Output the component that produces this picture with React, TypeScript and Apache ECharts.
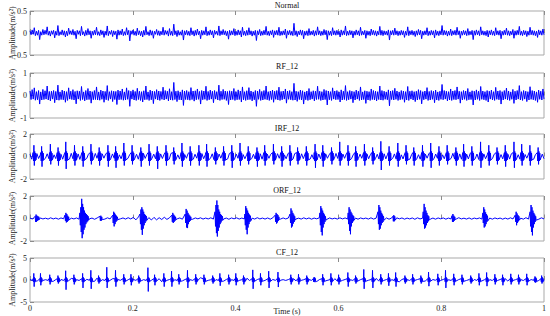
import React, { useEffect, useRef } from "react";
import * as echarts from "echarts";

// ---------- data ----------
const panelTitles = ["Normal", "RF_12", "IRF_12", "ORF_12", "CF_12"];
const yLimits = [0.5, 1, 2, 2, 5];
const xTicks = [0, 0.2, 0.4, 0.6, 0.8, 1];

// Normal: dense noise (alternating extremes)
const normalSig = [
  .05,-.04,.07,-.03,.12,-.06,.04,-.05,.06,-.15,.03,-.05,.08,-.04,.06,-.03,.14,-.05,.04,-.07,
  .05,-.03,.06,-.11,.04,-.05,.17,-.06,.03,-.04,.07,-.05,.05,-.09,.04,-.06,.11,-.03,.05,-.04,
  .08,-.05,.04,-.13,.06,-.03,.05,-.06,.15,-.04,.03,-.07,.06,-.05,.1,-.04,.05,-.12,.04,-.05,
  .06,-.04,.13,-.05,.03,-.06,.07,-.04,.05,-.1,.04,-.05,.16,-.06,.04,-.03,.06,-.08,.05,-.04,
  .04,-.14,.07,-.05,.05,-.04,.09,-.06,.03,-.05,.12,-.04,.06,-.18,.05,-.03,.07,-.05,.04,-.06,
  .11,-.04,.05,-.06,.04,-.09,.06,-.05,.15,-.04,.03,-.06,.07,-.05,.05,-.12,.04,-.03,.08,-.05,
  .05,-.06,.04,-.04,.13,-.05,.06,-.03,.05,-.07,.1,-.05,.04,-.06,.2,-.04,.05,-.08,.06,-.05,
  .03,-.05,.07,-.16,.05,-.04,.06,-.05,.04,-.06,.12,-.04,.05,-.07,.06,-.05,.09,-.04,.04,-.13,
  .06,-.05,.05,-.04,.14,-.06,.04,-.05,.07,-.04,.05,-.11,.06,-.03,.04,-.05,.16,-.06,.05,-.04,
  .08,-.04,.05,-.06,.04,-.14,.06,-.05,.05,-.04,.1,-.06,.04,-.05,.07,-.04,.05,-.09,.13,-.05,
  .04,-.06,.06,-.05,.12,-.04,.05,-.07,.04,-.05,.06,-.17,.05,-.04,.08,-.06,.04,-.05,.06,-.04,
  .15,-.05,.04,-.06,.05,-.04,.07,-.1,.05,-.04,.06,-.05,.13,-.06,.04,-.05,.05,-.04,.09,-.12,
  .05,-.04,.06,-.05,.04,-.06,.22,-.05,.05,-.08,.04,-.04,.07,-.05,.06,-.13,.04,-.05,.05,-.06,
  .1,-.05,.04,-.04,.06,-.07,.05,-.05,.14,-.04,.05,-.06,.04,-.05,.08,-.04,.06,-.15,.05,-.05,
  .04,-.06,.12,-.04,.05,-.05,.06,-.04,.04,-.09,.07,-.05,.05,-.04,.16,-.06,.04,-.05,.06,-.04,
  .05,-.11,.04,-.05,.07,-.04,.05,-.06,.13,-.05,.04,-.04,.06,-.12,.05,-.05,.04,-.06,.09,-.04,
  .06,-.05,.05,-.07,.04,-.04,.15,-.05,.06,-.06,.05,-.04,.04,-.05,.07,-.16,.05,-.04,.06,-.05,
  .11,-.04,.05,-.06,.04,-.05,.06,-.04,.05,-.1,.04,-.05,.14,-.06,.05,-.04,.06,-.05,.04,-.08,
  .05,-.05,.08,-.04,.06,-.13,.04,-.05,.05,-.04,.12,-.06,.04,-.05,.06,-.04,.05,-.11,.07,-.05,
  .04,-.06,.05,-.04,.17,-.05,.06,-.04,.05,-.07,.04,-.05,.09,-.06,.05,-.04,.06,-.05,.13,-.04,
  .05,-.12,.04,-.05,.06,-.04,.05,-.06,.1,-.05,.04,-.04,.06,-.15,.05,-.05,.07,-.04,.05,-.06,
  .14,-.04,.05,-.05,.04,-.06,.06,-.09,.05,-.04,.07,-.05,.04,-.06,.12,-.04,.05,-.05,.06,-.13,
  .04,-.05,.06,-.04,.11,-.05,.05,-.06,.04,-.04,.08,-.12,.05,-.05,.06,-.04,.15,-.05,.04,-.06,
  .06,-.04,.05,-.08,.04,-.05,.13,-.04,.06,-.05,.05,-.06,.04,-.1,.07,-.04,.05,-.05,.09,-.04,
];

// RF_12: larger dense noise
const rfSig = [
  .2,-.18,.26,-.16,.34,-.21,.17,-.19,.22,-.38,.16,-.2,.27,-.18,.21,-.16,.42,-.2,.18,-.24,
  .19,-.16,.22,-.32,.18,-.2,.46,-.21,.16,-.18,.24,-.19,.2,-.3,.17,-.22,.34,-.16,.19,-.18,
  .26,-.2,.18,-.37,.21,-.16,.19,-.22,.4,-.18,.16,-.24,.22,-.19,.31,-.18,.2,-.34,.17,-.19,
  .22,-.18,.38,-.2,.16,-.21,.24,-.17,.2,-.3,.18,-.19,.44,-.22,.17,-.16,.21,-.27,.19,-.18,
  .18,-.4,.24,-.19,.2,-.18,.29,-.21,.16,-.2,.34,-.17,.22,-.48,.19,-.16,.25,-.2,.18,-.22,
  .32,-.18,.19,-.22,.17,-.29,.21,-.19,.42,-.18,.16,-.22,.24,-.19,.2,-.36,.18,-.16,.26,-.2,
  .2,-.22,.18,-.17,.37,-.2,.22,-.16,.19,-.24,.3,-.2,.17,-.21,.58,-.18,.19,-.27,.21,-.19,
  .16,-.2,.25,-.44,.2,-.18,.22,-.19,.17,-.21,.35,-.18,.2,-.25,.21,-.19,.29,-.17,.18,-.38,
  .22,-.19,.2,-.17,.41,-.22,.18,-.19,.24,-.16,.19,-.32,.22,-.16,.17,-.2,.46,-.22,.19,-.18,
  .27,-.17,.2,-.22,.18,-.4,.21,-.2,.19,-.18,.31,-.22,.17,-.19,.25,-.18,.2,-.29,.38,-.19,
  .17,-.22,.21,-.19,.35,-.18,.2,-.24,.16,-.19,.22,-.48,.2,-.17,.27,-.22,.18,-.2,.22,-.17,
  .42,-.19,.17,-.22,.2,-.18,.24,-.3,.19,-.17,.22,-.2,.37,-.22,.18,-.19,.2,-.16,.29,-.34,
  .2,-.17,.22,-.19,.17,-.21,.54,-.2,.19,-.26,.17,-.18,.24,-.2,.21,-.38,.16,-.19,.2,-.22,
  .31,-.19,.17,-.16,.21,-.24,.19,-.18,.41,-.17,.19,-.22,.17,-.2,.27,-.18,.22,-.42,.2,-.19,
  .17,-.22,.34,-.16,.2,-.19,.22,-.18,.16,-.29,.25,-.2,.19,-.18,.44,-.22,.17,-.19,.22,-.16,
  .19,-.32,.17,-.2,.24,-.16,.19,-.22,.38,-.2,.16,-.18,.21,-.35,.19,-.2,.17,-.22,.29,-.18,
  .22,-.2,.19,-.24,.17,-.18,.42,-.2,.22,-.21,.19,-.17,.16,-.19,.25,-.46,.2,-.18,.22,-.2,
  .32,-.17,.2,-.22,.16,-.19,.22,-.17,.2,-.3,.17,-.2,.4,-.22,.19,-.16,.21,-.2,.17,-.27,
  .19,-.2,.26,-.17,.22,-.37,.17,-.19,.2,-.16,.35,-.22,.18,-.2,.22,-.17,.19,-.32,.24,-.2,
  .16,-.22,.19,-.17,.49,-.19,.22,-.16,.19,-.24,.17,-.2,.29,-.22,.2,-.18,.22,-.19,.38,-.16,
  .19,-.34,.17,-.2,.22,-.17,.2,-.22,.31,-.19,.16,-.18,.21,-.42,.19,-.2,.25,-.17,.19,-.22,
  .4,-.17,.2,-.19,.17,-.22,.22,-.29,.19,-.16,.24,-.2,.17,-.22,.36,-.17,.2,-.19,.22,-.38,
  .17,-.2,.22,-.16,.33,-.19,.2,-.22,.16,-.17,.27,-.35,.19,-.2,.22,-.16,.44,-.2,.17,-.22,
  .22,-.16,.19,-.27,.17,-.2,.39,-.17,.22,-.19,.2,-.22,.16,-.3,.24,-.17,.19,-.2,.29,-.16,
];

// IRF_12: background + periodic bursts
const irfBase = [
  .2,-.24,.16,-.22,.26,-.18,.15,-.24,.22,-.16,.24,-.2,.18,-.27,.15,-.19,.23,-.16,.2,-.24,
  .24,-.18,.16,-.22,.28,-.2,.18,-.16,.23,-.26,.15,-.21,.24,-.17,.2,-.24,.16,-.19,.27,-.16,
  .18,-.23,.24,-.15,.21,-.28,.16,-.19,.23,-.16,.2,-.24,.15,-.2,.26,-.18,.22,-.16,.17,-.27,
  .23,-.16,.2,-.24,.15,-.19,.28,-.17,.19,-.23,.24,-.15,.21,-.2,.16,-.26,.23,-.18,.2,-.22,
  .16,-.24,.27,-.16,.2,-.19,.15,-.23,.24,-.2,.18,-.16,.28,-.21,.17,-.24,.2,-.15,.23,-.2,
  .26,-.2,.16,-.23,.2,-.16,.24,-.28,.18,-.19,.22,-.15,.2,-.24,.16,-.21,.27,-.18,.19,-.23,
  .21,-.16,.23,-.26,.17,-.2,.15,-.23,.28,-.18,.2,-.22,.16,-.17,.24,-.24,.18,-.2,.22,-.16,
  .19,-.24,.16,-.2,.25,-.16,.21,-.27,.15,-.2,.23,-.18,.2,-.23,.26,-.16,.17,-.21,.24,-.19,
  .23,-.18,.28,-.22,.16,-.24,.2,-.15,.22,-.2,.18,-.28,.24,-.16,.15,-.23,.2,-.19,.27,-.17,
  .16,-.21,.22,-.16,.24,-.25,.19,-.2,.15,-.23,.28,-.18,.21,-.16,.18,-.24,.23,-.2,.16,-.22,
  .25,-.16,.2,-.23,.16,-.19,.24,-.21,.2,-.27,.17,-.16,.23,-.24,.2,-.18,.15,-.22,.26,-.2,
  .2,-.23,.18,-.17,.27,-.2,.16,-.24,.23,-.18,.21,-.15,.24,-.26,.18,-.2,.22,-.16,.2,-.24,
  .15,-.2,.24,-.21,.19,-.16,.28,-.23,.17,-.2,.23,-.24,.16,-.18,.21,-.22,.25,-.17,.2,-.2,
  .22,-.26,.18,-.16,.23,-.2,.16,-.23,.26,-.19,.2,-.16,.22,-.25,.17,-.21,.24,-.18,.2,-.23,
  .24,-.17,.21,-.23,.16,-.24,.27,-.2,.18,-.15,.23,-.22,.2,-.24,.16,-.2,.23,-.18,.21,-.2,
];
const irfBurstT = [
  .006,.021,.038,.053,.068,.085,.101,.117,.133,.150,.165,.181,.197,.214,.230,.246,
  .263,.278,.294,.310,.327,.342,.359,.375,.391,.407,.423,.440,.455,.472,.488,.504,
  .519,.536,.553,.568,.585,.601,.617,.632,.649,.665,.681,.697,.714,.730,.745,.762,
  .778,.794,.810,.827,.842,.858,.875,.891,.907,.923,.940,.955,.971,.987,
];
const irfBurstHi = [
  1.0,.9,1.1,.8,1.3,1.0,.9,1.1,.8,1.0, .9,1.2,1.0,.8,1.1,.9,1.0,.8,1.2,.9,
  1.0,1.1,.8,.9,1.0,1.2,.9,.8,1.0,1.1, .9,1.0,.8,.9,1.1,1.0,.8,1.3,1.0,.9,
  1.1,.8,1.35,.9,1.2,1.0,.8,1.0,1.2,.9, 1.0,.8,1.1,.9,1.3,1.0,.8,1.0,1.3,1.1, 1.0,.8,
];
const irfBurstLo = [
  -.8,-.9,-.7,-.8,-1.1,-.8,-.9,-.7,-.8,-.9, -1.0,-.8,-.7,-.9,-.8,-1.1,-.8,-.7,-.9,-.8,
  -.8,-.9,-.7,-.8,-1.0,-.8,-.7,-.9,-.8,-.7, -.9,-.8,-.7,-.8,-1.0,-.9,-.7,-.8,-.8,-.9,
  -.8,-.7,-1.2,-.8,-.9,-.7,-.8,-.9,-1.0,-.8, -.7,-.8,-.9,-.8,-1.0,-.8,-.7,-.9,-1.0,-.8, -.8,-.7,
];
const irfLead = [.35, -.4];
const irfTail = [.45, -.4, .3, -.3];

// ORF_12: quiet background + irregular ring-down bursts
const orfBase = [
  .04,-.05,.03,-.06,.05,-.04,.03,-.05,.06,-.04,.04,-.06,.05,-.03,.07,-.05,.03,-.04,.05,-.06,
  .04,-.05,.06,-.03,.04,-.07,.05,-.04,.03,-.05,.06,-.04,.05,-.06,.04,-.03,.05,-.05,.07,-.04,
  .1,-.12,.14,-.08,.12,-.1,.08,-.13,.1,-.12,.07,-.09,.11,-.08,.06,-.05,.04,-.03,.05,-.06,
  .05,-.04,.04,-.06,.05,-.03,.06,-.05,.04,-.04,.06,-.05,.03,-.06,.05,-.04,.04,-.07,.05,-.03,
  .06,-.05,.04,-.04,.05,-.06,.03,-.05,.07,-.04,.04,-.05,.05,-.06,.06,-.03,.04,-.05,.05,-.04,
  .04,-.06,.05,-.04,.03,-.05,.06,-.04,.05,-.06,.04,-.03,.06,-.05,.04,-.07,.05,-.04,.03,-.05,
  .06,-.04,.05,-.05,.07,-.04,.04,-.06,.05,-.03,.04,-.05,.06,-.05,.03,-.04,.06,-.04,.05,-.06,
  .04,-.05,.06,-.03,.05,-.06,.04,-.04,.05,-.07,.06,-.04,.03,-.05,.06,-.05,.04,-.06,.05,-.03,
  .05,-.06,.04,-.04,.06,-.05,.07,-.04,.03,-.05,.05,-.06,.04,-.03,.05,-.05,.06,-.04,.04,-.06,
  .05,-.03,.04,-.06,.04,-.05,.06,-.04,.05,-.04,.03,-.06,.07,-.05,.04,-.05,.04,-.06,.06,-.04,
];
const orfBurstT = [
  .010,.068,.097,.136,.161,.214,.276,.302,.360,.418,.477,
  .506,.564,.619,.677,.706,.765,.821,.881,.944,.973,
];
const orfBurstVals = [
  [.2,-.3,.35,-.3,.25,-.2,.2,-.15,.15,-.1],
  [.3,-.2,.5,-.35,.4,-.3,.25,-.2,.15,-.12],
  [.5,-.6,1.0,-1.2,1.75,-1.75,1.3,-1.4,1.0,-1.0,.7,-.8,.5,-.5,.4,-.35,.3,-.25,.2,-.15],
  [.2,-.2,.25,-.2,.15,-.1],
  [.3,-.4,.6,-.7,.5,-.5,.35,-.3,.25,-.2,.15,-.1],
  [.4,-.5,.8,-1.0,1.0,-1.45,.8,-.9,.6,-.6,.4,-.4,.3,-.25,.2,-.15],
  [.3,-.3,.5,-.4,.35,-.3,.25,-.2,.15,-.1],
  [.4,-.4,.85,-.8,.7,-.85,.5,-.5,.35,-.3,.25,-.2,.15,-.1],
  [.6,-.7,1.2,-1.3,1.6,-1.6,1.2,-1.1,.8,-.8,.6,-.5,.4,-.35,.3,-.2,.2,-.15],
  [.4,-.6,1.1,-1.0,.9,-1.4,.7,-.8,.5,-.5,.35,-.3,.25,-.2],
  [.3,-.3,.5,-.45,.4,-.35,.3,-.2,.15,-.1],
  [.4,-.4,.9,-.8,.7,-.7,.5,-.45,.35,-.3,.2,-.15],
  [.5,-.6,1.1,-1.2,.9,-1.5,.7,-.8,.5,-.5,.35,-.3,.2,-.15],
  [.5,-.5,1.0,-1.1,.8,-1.4,.6,-.7,.45,-.4,.3,-.25,.2,-.15],
  [.6,-.5,1.2,-1.0,1.0,-.9,.7,-.6,.5,-.4,.35,-.3,.2,-.15],
  [.2,-.25,.3,-.25,.2,-.15],
  [.6,-.5,1.3,-.9,1.0,-.8,.7,-.6,.5,-.4,.3,-.25,.2,-.15],
  [.25,-.3,.4,-.3,.25,-.2,.15,-.1],
  [.5,-.4,1.0,-.8,.8,-.7,.55,-.5,.4,-.3,.25,-.2],
  [.3,-.3,.6,-.6,.45,-.4,.3,-.25,.2,-.15],
  [.6,-.7,1.2,-1.2,1.0,-1.5,.7,-.8,.5,-.5,.35,-.3,.2,-.15],
];

// CF_12: thin background + sharp periodic spikes
const cfBase = [
  .1,-.12,.08,-.15,.2,-.1,.07,-.09,.4,-.3,.1,-.08,.12,-.1,.06,-.14,.35,-.25,.09,-.11,
  .08,-.1,.15,-.07,.1,-.3,.45,-.12,.07,-.09,.11,-.08,.3,-.35,.1,-.07,.09,-.12,.06,-.1,
  .12,-.09,.4,-.2,.08,-.11,.1,-.07,.13,-.1,.3,-.4,.09,-.08,.11,-.06,.07,-.1,.35,-.2,
  .1,-.13,.08,-.09,.12,-.07,.5,-.3,.1,-.08,.06,-.11,.09,-.1,.3,-.25,.12,-.08,.07,-.09,
  .11,-.1,.08,-.35,.4,-.12,.09,-.07,.1,-.11,.07,-.09,.45,-.3,.12,-.08,.1,-.06,.08,-.1,
  .09,-.12,.3,-.2,.1,-.08,.07,-.1,.11,-.09,.4,-.35,.08,-.07,.12,-.1,.06,-.11,.3,-.25,
  .1,-.08,.12,-.09,.07,-.1,.45,-.3,.09,-.12,.08,-.07,.11,-.1,.35,-.2,.07,-.09,.1,-.11,
  .08,-.1,.3,-.4,.12,-.07,.09,-.11,.06,-.08,.1,-.09,.4,-.25,.08,-.12,.11,-.07,.09,-.1,
  .12,-.09,.07,-.1,.35,-.3,.1,-.08,.06,-.11,.09,-.07,.11,-.1,.45,-.2,.08,-.09,.1,-.12,
  .07,-.11,.1,-.08,.3,-.25,.12,-.1,.08,-.07,.09,-.12,.4,-.3,.1,-.08,.07,-.1,.11,-.09,
];
const cfSpikeT = [
  .006,.019,.037,.053,.068,.084,.101,.117,.132,.148,
  .165,.181,.195,.210,.228,.241,.259,.274,.288,.305,
  .321,.337,.354,.368,.385,.399,.414,.432,.447,.463,
  .481,
  .506,.521,.537,.551,.568,.584,.599,.617,.632,.648,
  .665,.681,.696,.710,.728,.743,.759,.774,.792,.807,
  .823,.839,.856,.872,.887,.903,.918,.934,.949,.965,
  .981,.994,
];
const cfSpikeHi = [
  1.5,1.5,1.2,1.0,2.1,1.2,1.5,2.2,1.0,2.9,
  2.2,1.3,1.3,1.0,2.8,1.2,1.5,2.0,1.3,2.2,
  1.3,1.2,1.0,1.5,1.2,1.5,1.0,2.3,1.5,2.0,
  1.8,
  1.2,1.3,1.0,.6,1.3,1.5,1.2,1.7,1.0,2.4,
  2.2,1.3,1.5,1.7,1.0,1.3,1.0,1.8,1.4,2.2,
  1.4,1.2,1.0,1.5,1.7,1.3,1.2,1.4,1.2,1.4,
  .8,1.0,
];
const cfSpikeLo = [
  -1.5,-1.2,-1.0,-.8,-2.2,-1.0,-1.8,-2.0,-.8,-1.8,
  -1.5,-1.0,-1.2,-.8,-2.6,-1.2,-1.5,-1.5,-1.0,-1.8,
  -1.0,-1.0,-.8,-1.3,-1.0,-1.2,-1.0,-2.0,-1.2,-1.8,
  -1.6,
  -1.0,-1.0,-1.0,-.4,-1.2,-1.2,-1.0,-1.5,-.8,-2.0,
  -1.8,-1.0,-1.3,-1.5,-.8,-1.0,-.8,-1.4,-1.2,-1.8,
  -1.2,-1.0,-.8,-1.2,-1.4,-1.0,-1.2,-1.0,-1.0,-1.2,
  -.6,-.8,
];
const cfLead = [.3, -.4];
const cfTail = [.6, -.5, .35, -.3];

// ---------- assembly ----------
type Burst = { t: number; vals: number[] };

function assemble(base: number[], bursts: Burst[], dt: number): number[][] {
  const n = base.length;
  const pts: number[][] = base.map((v, i) => [i / (n - 1), v]);
  const spans = bursts.map((b) => [b.t - dt, b.t + b.vals.length * dt]);
  const kept = pts.filter(([t]) => !spans.some(([a, c]) => t >= a && t <= c));
  bursts.forEach((b) => b.vals.forEach((v, k) => kept.push([b.t + k * dt, v])));
  kept.sort((p, q) => p[0] - q[0]);
  return kept;
}

const irfBursts: Burst[] = irfBurstT.map((t, i) => ({
  t,
  vals: [...irfLead, irfBurstHi[i], irfBurstLo[i], ...irfTail],
}));
const orfBursts: Burst[] = orfBurstT.map((t, i) => ({ t, vals: orfBurstVals[i] }));
const cfBursts: Burst[] = cfSpikeT.map((t, i) => ({
  t,
  vals: [...cfLead, cfSpikeHi[i], cfSpikeLo[i], ...cfTail],
}));

const seriesData: number[][][] = [
  assemble(normalSig, [], 0.001),
  assemble(rfSig, [], 0.001),
  assemble(irfBase, irfBursts, 0.0008),
  assemble(orfBase, orfBursts, 0.0009),
  assemble(cfBase, cfBursts, 0.0007),
];

// ---------- layout ----------
const FONT = '"Liberation Serif", "Times New Roman", serif';
const gridTops = [11, 73, 134, 196, 258];
const gridHeights = [44, 45, 45, 45, 44];
const titleCenters = [5.5, 67, 128.5, 190.5, 253];
const LEFT = 30;
const RIGHT = 6;
const TICK_COLOR = "#8c8c8c";
const TEXT_COLOR = "#222";

function buildOption() {
  const grids: any[] = [];
  const xAxes: any[] = [];
  const yAxes: any[] = [];
  const series: any[] = [];
  const titles: any[] = [];
  panelTitles.forEach((name, i) => {
    grids.push({
      left: LEFT,
      right: RIGHT,
      top: gridTops[i],
      height: gridHeights[i],
      containLabel: false,
      outerBoundsMode: "none",
      show: true,
      borderColor: "#a9a9a9",
      borderWidth: 1,
      backgroundColor: "#fff",
    });
    const isLast = i === panelTitles.length - 1;
    const xBase = {
      type: "value",
      gridIndex: i,
      min: xTicks[0],
      max: xTicks[xTicks.length - 1],
      interval: 0.2,
      axisLine: { show: false },
      splitLine: { show: false },
      axisTick: { show: true, inside: true, length: 4, lineStyle: { color: TICK_COLOR, width: 1 } },
    };
    xAxes.push({
      ...xBase,
      position: "bottom",
      axisLabel: {
        show: isLast,
        fontSize: 8,
        fontFamily: FONT,
        color: TEXT_COLOR,
        margin: 2,
      },
      name: isLast ? "Time (s)" : "",
      nameLocation: "middle",
      nameGap: 5,
      nameMoveOverlap: false,
      nameTextStyle: { fontSize: 8, fontFamily: FONT, color: TEXT_COLOR },
    });
    xAxes.push({ ...xBase, position: "top", axisLabel: { show: false } });
    const lim = yLimits[i];
    yAxes.push({
      type: "value",
      gridIndex: i,
      min: -lim,
      max: lim,
      interval: lim,
      axisLine: { show: false },
      splitLine: { show: false },
      axisTick: { show: true, inside: true, length: 4, lineStyle: { color: TICK_COLOR } },
      axisLabel: { fontSize: 8, fontFamily: FONT, color: TEXT_COLOR, margin: 3 },
      name: "Amplitude(m/s²)",
      nameLocation: "middle",
      nameGap: 14,
      nameMoveOverlap: false,
      nameRotate: 90,
      nameTextStyle: { fontSize: 8, fontFamily: FONT, color: TEXT_COLOR },
    });
    series.push({
      type: "line",
      xAxisIndex: i * 2,
      yAxisIndex: i,
      data: seriesData[i],
      showSymbol: false,
      symbol: "none",
      silent: true,
      lineStyle: { color: "#0000ff", width: 1 },
      z: 3,
    });
    titles.push({
      text: name,
      left: 287,
      top: titleCenters[i] - 4.5,
      textAlign: "center",
      padding: 0,
      textStyle: { fontSize: 8, fontFamily: FONT, fontWeight: "normal", color: "#111" },
    });
  });
  return {
    animation: false,
    backgroundColor: "#fff",
    title: titles,
    grid: grids,
    xAxis: xAxes,
    yAxis: yAxes,
    series,
  };
}

export default function App() {
  const ref = useRef<HTMLDivElement>(null);
  useEffect(() => {
    if (!ref.current) return;
    const chart = echarts.init(ref.current, null, { renderer: "svg" });
    chart.setOption(buildOption() as any);
    return () => chart.dispose();
  }, []);
  return (
    <div
      ref={ref}
      style={{ position: "fixed", left: 0, top: 0, width: 550, height: 316, background: "#fff" }}
    />
  );
}
